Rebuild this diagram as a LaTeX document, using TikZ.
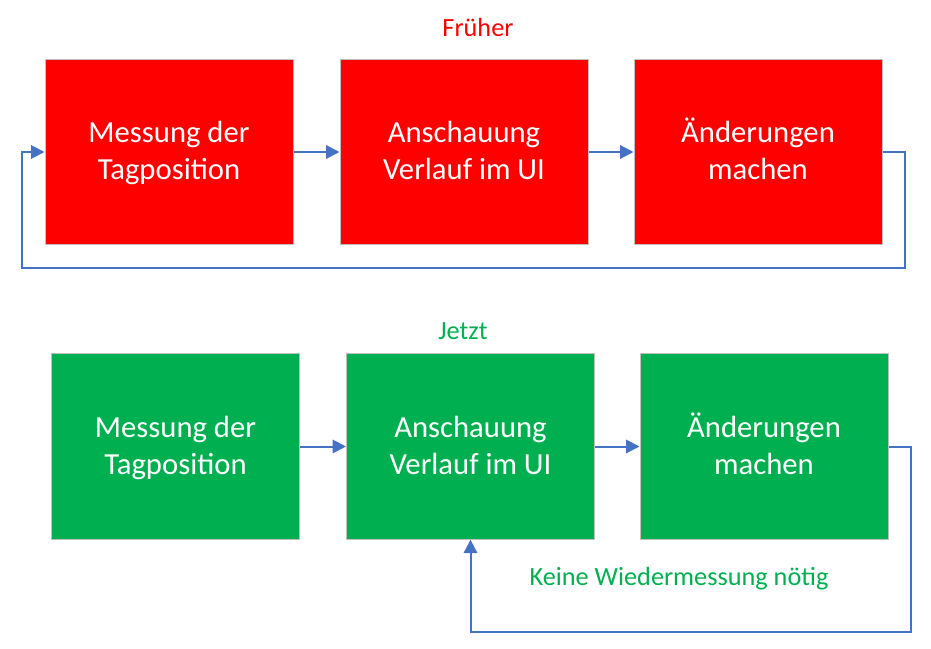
\documentclass[tikz,border=0pt]{standalone}
\usepackage{fontspec}
\setmainfont{Carlito}
\usepackage{tikz}
\usetikzlibrary{arrows.meta,positioning}
\usepackage{xcolor}
\definecolor{OldRed}{RGB}{255,0,0}
\definecolor{NewGreen}{RGB}{0,176,80}
\definecolor{FlowBlue}{RGB}{68,114,196}
\definecolor{EdgeGray}{RGB}{191,191,191}
\newcommand{\zweizeilig}[2]{\rule{0pt}{22.4pt}#1\\#2\rule[-8.3pt]{0pt}{0pt}}

\begin{document}
\begin{tikzpicture}[x=0.75pt,y=-0.75pt,
  stepbox/.style={draw=EdgeGray,line width=0.75pt,minimum width=186pt,
                  minimum height=139pt,inner sep=0pt,text=white,align=center,
                  font=\fontsize{23}{27.75}\selectfont},
  flow/.style={FlowBlue,line width=1.5pt,-{Triangle[length=10pt,width=10pt]}},
  title/.style={font=\fontsize{19.7}{24}\selectfont},
]
\useasboundingbox (0,0) rectangle (931,649);
% Frueher --- alter Ablauf
\node[title,text=OldRed] (alt) at (478,27) {Früher};
\node[stepbox,fill=OldRed] (alt1) at (169,152) {\zweizeilig{Messung der}{Tagposition}};
\node[stepbox,fill=OldRed] (alt2) at (464,152) {\zweizeilig{Anschauung}{Verlauf im UI}};
\node[stepbox,fill=OldRed] (alt3) at (758,152) {\zweizeilig{Änderungen}{machen}};
\coordinate (altR) at (905,268);
\coordinate (altL) at (22,268);
\draw[flow] (alt1) -- (alt2);
\draw[flow] (alt2) -- (alt3);
\draw[flow] (alt3.east) -| (altR) -- (altL) |- (alt1.west);
% Jetzt --- neuer Ablauf
\node[title,text=NewGreen] (neu) at (463,331) {Jetzt};
\node[stepbox,fill=NewGreen] (neu1) at (175.5,446.5) {\zweizeilig{Messung der}{Tagposition}};
\node[stepbox,fill=NewGreen] (neu2) at (470.5,446.5) {\zweizeilig{Anschauung}{Verlauf im UI}};
\node[stepbox,fill=NewGreen] (neu3) at (764,446.5) {\zweizeilig{Änderungen}{machen}};
\coordinate (neuR) at (911,632);
\draw[flow] (neu1) -- (neu2);
\draw[flow] (neu2) -- (neu3);
\draw[flow] (neu3.east) -| (neuR) -| (neu2.south);
\node[title,text=NewGreen] (keine) at (679,579) {Keine Wiedermessung nötig};
\end{tikzpicture}
\end{document}
